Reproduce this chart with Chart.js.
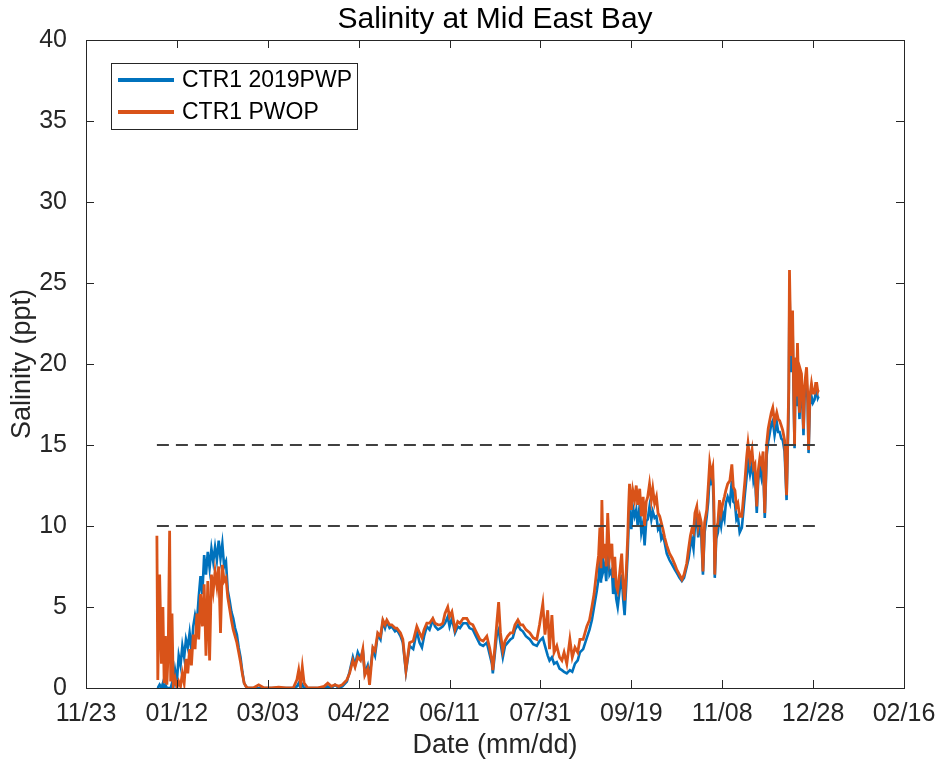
<!DOCTYPE html>
<html>
<head>
<meta charset="utf-8">
<title>Salinity at Mid East Bay</title>
<script src="https://cdn.jsdelivr.net/npm/chart.js@4.4.1/dist/chart.umd.min.js"></script>
<style>
  body { margin: 0; background: #fff; }
  canvas { display: block; }
</style>
</head>
<body>
<canvas id="salChart" width="940" height="766"></canvas>
<script>
// day 0 = 01/01 (2019), x axis runs 11/23 .. 02/16
const xTickDays = [-39, 11, 61, 111, 161, 211, 261, 311, 361, 411];
const xTickLabels = ['11/23', '01/12', '03/03', '04/22', '06/11', '07/31', '09/19', '11/08', '12/28', '02/16'];

const refSpan = [0, 364];
const refLow = [10, 10];
const refHigh = [15, 15];

const days = [
  // jan
  0, 0.5, 1.5, 2.5, 3.3, 4, 4.7, 5.5, 6.2, 7,
  7.6, 8.3, 9, 10, 11, 12, 13, 14, 15, 16,
  17, 18, 19, 20, 21, 22, 23, 24, 25, 26,
  27, 28, 29, 30, 31, 32, 33, 34, 35, 36,
  37, 38, 39, 40, 41, 42, 43, 44, 45, 46,
  47, 48, 49, 50,
  // feb - apr
  53, 56, 59, 63, 67, 71, 75, 77, 78, 79,
  80, 81, 83, 88, 92, 94, 96, 98, 100, 102,
  // apr - jul
  104.5, 106, 107.8, 109, 110.5, 112, 113.3, 114.4, 116, 117,
  118.8, 120, 121.5, 123, 124.3, 125.5, 126.5, 128, 129.2, 131,
  132, 134, 135.3, 137, 139, 141, 143, 144.5, 145.8, 147,
  148.5, 150, 151.8, 153, 154.6, 156, 157.3, 158.5, 160, 161,
  162.3, 164, 165.5, 166.7, 168.5, 170.5, 172, 173.8, 175.5, 177.7,
  179.5, 181.5, 183, 184.3, 184.8, 186, 187, 188, 189, 190.3,
  191.5, 193, 194.5, 195.8, 197, 198.6, 200, 201.3, 203, 205.2,
  207, 209,
  // jul - sep
  210.5, 212.3, 213.5, 215, 216, 217.3, 218.5, 220, 221.5, 222.8,
  224, 225.5, 227.2, 228.5, 230, 231.5, 232.7, 234.5, 236.5, 238,
  239.3, 240.5, 242, 243, 243.7, 244.3, 244.8, 245.5, 246.4, 247.2,
  248, 249, 250.3, 251, 251.9, 252.7, 253.5, 254.5, 255.7, 256.5,
  257.3, 258.2, 259,
  // sep - nov
  259.5, 260, 261, 261.8, 262.8, 263.7, 264.5, 265.6, 266.5, 267.5,
  268.3, 269.2, 270, 271, 272, 272.8, 273.8, 274.8, 275.7, 276.6,
  277.5, 278.4, 279.3, 280.5, 282, 283.5, 285, 286, 287.5, 288.8,
  290, 291.5, 292.5, 293.5, 294.3, 295.2, 296, 297, 297.8, 298.7,
  299.5, 300.4, 301.3, 302.5, 303.3, 304.1, 305, 305.8, 306.4, 306.9,
  // nov - dec
  307.7, 308.6, 309.5, 310.4, 311.3, 312.2, 313, 314, 315.2, 316.3,
  317.1, 318, 318.8, 319.6, 320.6, 321.8, 322.7, 323.5, 324.4, 325.2,
  326.3, 327.4, 328.2, 329, 330, 330.8, 331.7, 332.6, 333.5, 334.4,
  335.5, 336.3, 337.1, 338, 338.8, 339.8, 341, 341.8, 342.6, 343.5,
  344.3, 345.3, 346.4,
  // late dec
  347, 347.6, 348, 348.8, 349.7, 350.3, 350.8, 351.3, 351.8, 352.4,
  353, 353.5, 354.1, 354.6, 355.2, 355.7, 356.3, 356.8, 357.4, 358,
  358.5, 359.2, 360.1, 360.9, 361.8, 362.4, 363, 363.6, 364
];

// CTR1 2019PWP (blue)
const pwpSal = [
  0, 0, 0.2, 0, 0.3, 0, 0.2, 0, 0, 0,
  0, 0.3, 0, 1.1, 0.4, 2.0, 1.4, 2.6, 1.9, 3.0,
  2.5, 3.4, 2.3, 3.8, 4.5, 4.0, 5.6, 6.9, 5.8, 8.2,
  7.0, 8.4, 7.4, 8.6, 7.8, 8.7, 7.9, 9.1, 8.0, 8.9,
  7.5, 7.8, 6.0, 5.4, 4.7, 4.3, 3.7, 3.3, 2.5, 1.9,
  1.0, 0.3, 0.1, 0,

  0, 0, 0, 0, 0, 0, 0, 0.1, 0.3, 0,
  0.2, 0, 0, 0, 0, 0.1, 0, 0.2, 0, 0.1,

  0.4, 1.0, 1.9, 1.4, 2.2, 1.8, 2.3, 0.9, 1.4, 0.7,
  2.4, 2.0, 3.3, 3.0, 4.1, 3.7, 4.1, 3.7, 3.8, 3.5,
  3.6, 3.2, 2.8, 1.0, 2.6, 2.4, 3.5, 2.8, 2.5, 3.2,
  3.8, 3.6, 4.2, 3.8, 3.6, 3.7, 3.8, 4.0, 4.4, 3.8,
  4.3, 3.4, 3.8, 3.7, 4.0, 4.0, 3.7, 3.6, 3.2, 2.7,
  2.6, 2.8, 2.1, 1.5, 0.9, 2.2, 3.3, 3.6, 2.8, 1.9,
  2.6, 2.8, 3.0, 3.1, 3.6, 3.9, 3.6, 3.5, 3.2, 3.0,
  2.7, 2.6,

  2.9, 3.1, 2.6, 2.0, 1.7, 1.9, 1.5, 1.6, 1.2, 1.1,
  1.0, 0.9, 1.1, 1.0, 1.5, 1.7, 2.2, 2.4, 3.1, 3.6,
  4.2, 5.0, 6.0, 6.8, 8.0, 6.5, 9.4, 7.2, 7.6, 6.6,
  9.0, 7.0, 7.3, 5.8, 6.8, 5.5, 5.0, 6.0, 7.0, 5.5,
  4.5, 6.4, 8.4,

  10.0, 11.0, 9.8, 11.2, 10.6, 11.0, 10.0, 11.3, 9.6, 10.2,
  8.8, 10.3, 10.4, 11.2, 10.4, 10.9, 10.5, 10.6, 9.8, 10.0,
  9.2, 9.4, 9.0, 8.3, 7.9, 7.6, 7.3, 7.1, 6.8, 6.6,
  6.8, 7.5, 8.0, 8.8, 9.2, 8.6, 10.0, 10.5, 9.3, 10.1,
  9.4, 7.0, 9.6, 10.6, 11.5, 13.2, 12.7, 12.9, 10.8, 6.8,

  9.2, 9.6, 10.6, 10.0, 10.8, 10.4, 11.4, 11.8, 11.4, 12.8,
  11.5, 11.4, 10.4, 10.6, 9.6, 9.9, 11.0, 12.0, 13.0, 14.0,
  13.2, 13.9, 12.8, 13.2, 10.8, 12.8, 13.6, 13.0, 13.8, 10.5,
  14.4, 15.2, 15.7, 16.3, 16.5, 15.6, 16.4, 15.8, 15.8, 15.4,
  15.3, 14.6, 11.6,

  14.6, 17.5, 24.8, 19.5, 22.4, 17.8, 14.8, 19.8, 17.4, 20.6,
  18.0, 16.6, 18.6, 18.5, 17.2, 15.6, 17.9, 18.6, 19.0, 17.6,
  14.5, 17.4, 18.0, 17.6, 17.8, 18.2, 18.3, 17.9, 18.0
];

// CTR1 PWOP (orange)
const pwopSal = [
  9.4, 0.5, 7.0, 1.5, 5.0, 0.3, 3.2, 0.2, 2.2, 9.7,
  0.4, 4.6, 0.2, 0.6, 0, 0.4, 0.1, 0.9, 0.3, 1.8,
  0.9, 2.4, 1.4, 3.3, 2.4, 4.6, 3.0, 5.8, 3.8, 6.4,
  2.0, 6.6, 1.7, 7.0, 6.0, 7.2, 6.3, 7.5, 3.4, 7.6,
  6.6, 6.8, 5.6, 4.9, 4.2, 3.6, 3.2, 2.8, 2.2, 1.6,
  0.9, 0.3, 0.1, 0,

  0, 0.2, 0, 0, 0.05, 0, 0, 0.5, 1.1, 0.2,
  1.3, 0.3, 0, 0, 0.1, 0.3, 0.1, 0.2, 0.1, 0.2,

  0.5, 0.9, 1.7, 1.3, 1.9, 1.7, 2.4, 0.8, 1.2, 0.2,
  2.5, 2.3, 3.4, 3.2, 4.2, 3.9, 4.2, 3.9, 3.9, 3.7,
  3.7, 3.4, 3.0, 1.1, 2.8, 2.9, 3.8, 3.4, 3.1, 3.6,
  4.0, 4.0, 4.3, 4.0, 3.9, 3.9, 4.0, 4.6, 5.0, 4.4,
  4.7, 3.6, 4.1, 4.0, 4.3, 4.3, 4.0, 3.9, 3.5, 3.0,
  2.9, 3.2, 2.5, 1.7, 1.1, 2.6, 4.0, 5.3, 3.4, 2.3,
  2.9, 3.2, 3.4, 3.4, 3.9, 4.2, 3.9, 3.9, 3.6, 3.4,
  3.1, 3.0,

  3.9, 5.2, 3.3, 4.8, 2.4, 4.5, 2.2, 2.6, 1.9, 1.7,
  2.2, 1.5, 3.0, 1.9, 2.5, 2.2, 3.0, 3.0, 3.8, 4.2,
  5.0, 5.8, 7.3, 8.2, 9.9, 7.4, 11.6, 8.0, 8.9, 7.5,
  10.8, 8.0, 8.9, 6.8, 8.1, 6.3, 6.0, 7.0, 8.3, 6.4,
  5.4, 7.2, 9.3,

  11.2, 12.6, 11.0, 12.2, 11.6, 12.5, 11.3, 12.3, 10.6, 11.8,
  10.0, 11.5, 11.8, 12.6, 11.6, 12.3, 11.4, 11.8, 10.8, 10.6,
  10.2, 9.8, 9.3, 8.8, 8.3, 8.0, 7.6, 7.3, 7.0, 6.7,
  7.0, 7.7, 8.6, 9.4, 9.8, 9.6, 10.8, 11.2, 10.0, 10.6,
  10.2, 7.2, 10.2, 11.0, 12.4, 13.9, 13.2, 13.6, 11.5, 7.0,

  9.8, 10.2, 11.6, 10.8, 11.4, 11.8, 12.2, 12.6, 12.8, 13.8,
  12.4, 12.2, 11.2, 11.4, 10.6, 10.6, 11.8, 12.8, 14.2, 15.1,
  14.0, 14.7, 13.6, 13.8, 11.2, 13.4, 14.2, 13.8, 14.6, 10.8,
  15.1, 16.0, 16.5, 17.0, 17.3, 16.4, 17.0, 16.6, 16.5, 16.2,
  15.9, 15.3, 11.9,

  15.1, 18.5, 25.8, 20.5, 23.3, 18.5, 15.0, 20.4, 18.0, 21.3,
  18.6, 17.0, 19.6, 19.4, 17.8, 16.0, 18.5, 19.2, 19.8, 18.2,
  14.7, 18.0, 18.8, 18.2, 18.2, 18.8, 18.8, 18.3, 18.4
];

const FONT = '"Liberation Sans", Arial, Helvetica, sans-serif';
const AXIS_COLOR = '#262626';

function toPoints(xs, ys) {
  return xs.map((x, i) => ({ x: x, y: ys[i] }));
}

// box, inward ticks, title and boxed legend like matlab
const matlabFramePlugin = {
  id: 'matlabFrame',
  afterDraw(chart) {
    const ctx = chart.ctx;
    const a = chart.chartArea;
    const xs = chart.scales.x;
    const ys = chart.scales.y;
    const tl = 8;

    ctx.save();
    ctx.strokeStyle = AXIS_COLOR;
    ctx.lineWidth = 1;
    ctx.beginPath();
    ys.ticks.forEach(t => {
      const py = Math.round(ys.getPixelForValue(t.value)) + 0.5;
      ctx.moveTo(a.left, py); ctx.lineTo(a.left + tl, py);
      ctx.moveTo(a.right, py); ctx.lineTo(a.right - tl, py);
    });
    xs.ticks.forEach(t => {
      const px = Math.round(xs.getPixelForValue(t.value)) + 0.5;
      ctx.moveTo(px, a.bottom); ctx.lineTo(px, a.bottom - tl);
      ctx.moveTo(px, a.top); ctx.lineTo(px, a.top + tl);
    });
    ctx.stroke();
    ctx.strokeRect(Math.round(a.left) + 0.5, Math.round(a.top) + 0.5,
      Math.round(a.right - a.left), Math.round(a.bottom - a.top));

    // title
    ctx.fillStyle = '#000';
    ctx.font = '30px ' + FONT;
    ctx.textAlign = 'center';
    ctx.textBaseline = 'middle';
    ctx.fillText('Salinity at Mid East Bay', (a.left + a.right) / 2, 20);

    // legend
    const items = chart.data.datasets.filter(ds => !ds.isRef);
    ctx.font = '23px ' + FONT;
    const textW = Math.max(...items.map(ds => ctx.measureText(ds.label).width));
    const x0 = a.left + 25;
    const y0 = a.top + 23;
    const rowH = 32;
    const w = 71 + textW + 5;
    const h = items.length * rowH + 2;
    ctx.fillStyle = '#fff';
    ctx.fillRect(x0, y0, w, h);
    ctx.strokeStyle = AXIS_COLOR;
    ctx.lineWidth = 1;
    ctx.strokeRect(Math.round(x0) + 0.5, Math.round(y0) + 0.5, Math.round(w), Math.round(h));
    items.forEach((ds, i) => {
      const cy = y0 + 17 + i * rowH;
      ctx.strokeStyle = ds.borderColor;
      ctx.lineWidth = 4;
      ctx.beginPath();
      ctx.moveTo(x0 + 7, cy);
      ctx.lineTo(x0 + 63, cy);
      ctx.stroke();
      ctx.fillStyle = '#000';
      ctx.textAlign = 'left';
      ctx.fillText(ds.label, x0 + 71, cy + 1);
    });
    ctx.restore();
  }
};

const ctx = document.getElementById('salChart').getContext('2d');
const chart = new Chart(ctx, {
  type: 'line',
  data: {
    datasets: [
      {
        label: 'CTR1 2019PWP',
        data: toPoints(days, pwpSal),
        borderColor: '#0072BD',
        borderWidth: 2.6,
        order: 1
      },
      {
        label: 'CTR1 PWOP',
        data: toPoints(days, pwopSal),
        borderColor: '#D95319',
        borderWidth: 2.8,
        order: 0
      },
      {
        label: '10 ppt',
        isRef: true,
        data: toPoints(refSpan, refLow),
        borderColor: '#404040',
        borderWidth: 1.8,
        borderDash: [12, 7],
        order: -1
      },
      {
        label: '15 ppt',
        isRef: true,
        data: toPoints(refSpan, refHigh),
        borderColor: '#404040',
        borderWidth: 1.8,
        borderDash: [12, 7],
        order: -1
      }
    ]
  },
  options: {
    responsive: false,
    animation: false,
    devicePixelRatio: 1,
    layout: { padding: { top: 40, right: 36, left: 0, bottom: 0 } },
    elements: {
      point: { radius: 0, hoverRadius: 0 },
      line: { tension: 0, fill: false }
    },
    plugins: {
      legend: { display: false },
      title: { display: false },
      tooltip: { enabled: false }
    },
    scales: {
      x: {
        type: 'linear',
        min: -39,
        max: 411,
        grid: { display: false },
        border: { display: false },
        afterBuildTicks: (scale) => {
          scale.ticks = xTickDays.map(v => ({ value: v }));
        },
        afterFit: (scale) => {
          scale.height = 78;
          scale.paddingLeft = 0;
          scale.paddingRight = 0;
        },
        ticks: {
          autoSkip: false,
          maxRotation: 0,
          padding: 3,
          color: AXIS_COLOR,
          font: { family: FONT, size: 25 },
          callback: (value, index) => xTickLabels[index]
        },
        title: {
          display: true,
          text: 'Date (mm/dd)',
          color: AXIS_COLOR,
          font: { family: FONT, size: 27 },
          padding: { top: 0, bottom: 4 }
        }
      },
      y: {
        min: 0,
        max: 40,
        grid: { display: false },
        border: { display: false },
        afterFit: (scale) => { scale.width = 86; },
        ticks: {
          stepSize: 5,
          padding: 11,
          color: AXIS_COLOR,
          font: { family: FONT, size: 25 }
        },
        title: {
          display: true,
          text: 'Salinity (ppt)',
          color: AXIS_COLOR,
          font: { family: FONT, size: 27 },
          padding: { top: 6, bottom: 0 }
        }
      }
    }
  },
  plugins: [matlabFramePlugin]
});
</script>
</body>
</html>
